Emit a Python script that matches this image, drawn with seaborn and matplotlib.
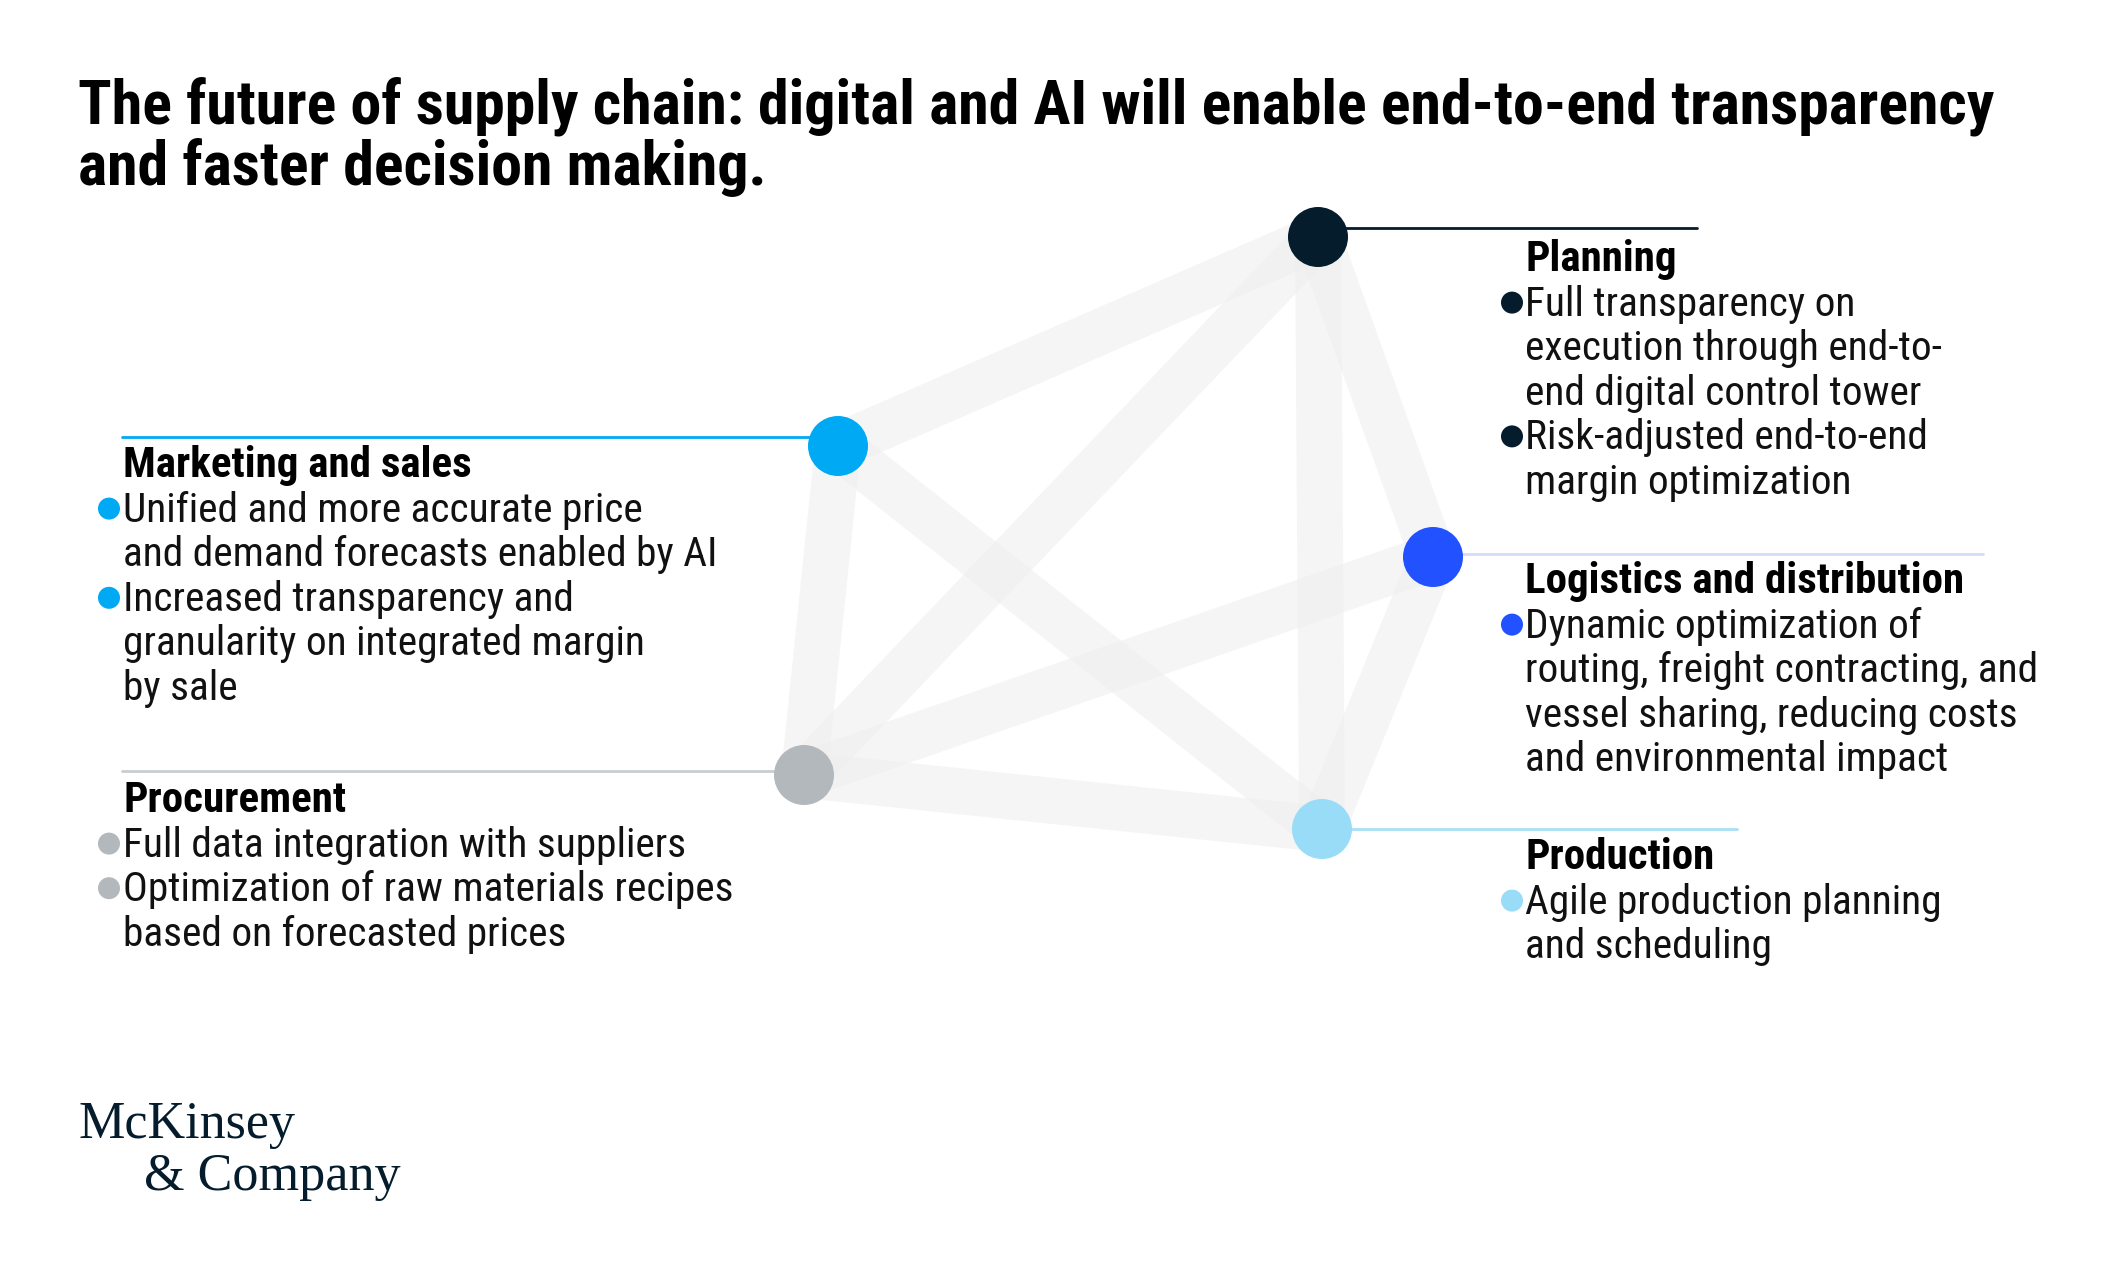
import matplotlib
matplotlib.use("Agg")
import matplotlib.pyplot as plt
from matplotlib import font_manager
import seaborn as sns
import pandas as pd

# ---------------- data ----------------
title_lines = ["The future of supply chain: digital and AI will enable end-to-end transparency",
               "and faster decision making."]
functions = ["Planning", "Marketing and sales", "Logistics and distribution", "Procurement", "Production"]
node_colors = ["#051c2c", "#00a9f4", "#2251ff", "#b3b8bd", "#99dcf8"]
line_colors = ["#051c2c", "#00a9f4", "#d3dcfa", "#c9cdd1", "#a8e0f8"]
edges = [("Planning", "Marketing and sales"), ("Planning", "Procurement"), ("Planning", "Production"),
         ("Planning", "Logistics and distribution"), ("Marketing and sales", "Procurement"),
         ("Marketing and sales", "Production"), ("Procurement", "Logistics and distribution"),
         ("Procurement", "Production"), ("Logistics and distribution", "Production")]
planning_text = [["Full transparency on", "execution through end-to-", "end digital control tower"],
                 ["Risk-adjusted end-to-end", "margin optimization"]]
marketing_text = [["Unified and more accurate price", "and demand forecasts enabled by AI"],
                  ["Increased transparency and", "granularity on integrated margin", "by sale"]]
logistics_text = [["Dynamic optimization of", "routing, freight contracting, and",
                   "vessel sharing, reducing costs", "and environmental impact"]]
procurement_text = [["Full data integration with suppliers"],
                    ["Optimization of raw materials recipes", "based on forecasted prices"]]
production_text = [["Agile production planning", "and scheduling"]]
logo_lines = ["McKinsey", "& Company"]

# ---------------- layout (pixel coordinates) ----------------
W, H, DPI = 2120, 1284, 200
node_x = [1318, 838, 1433, 804, 1322]
node_y = [237, 446, 557, 775, 829]
# connector lines: (x0, x1, y)
connectors = [(1318, 1697, 228), (122, 838, 437), (1433, 1983, 554), (122, 804, 771), (1322, 1737, 829)]
# text blocks: x of text, heading baseline, bullet x
blocks = {
    "Planning": (1525, 271, 1512, planning_text),
    "Marketing and sales": (123, 477, 109, marketing_text),
    "Logistics and distribution": (1525, 593, 1512, logistics_text),
    "Procurement": (123, 812, 109, procurement_text),
    "Production": (1525, 869, 1512, production_text),
}
LINE_STEP = 44.6

sns.set_theme(style="white")
names = {f.name for f in font_manager.fontManager.ttflist}
sans = "Roboto"
for cand in ["Liberation Sans Narrow", "Roboto Condensed", "Roboto", "Liberation Sans"]:
    if cand in names:
        sans = cand
        break
plt.rcParams["font.family"] = [sans, "DejaVu Sans"]

fig = plt.figure(figsize=(W / DPI, H / DPI), dpi=DPI)
fig.patch.set_facecolor("white")
ax = fig.add_axes([0, 0, 1, 1])
renderer = fig.canvas.get_renderer()


def fit_size(text, target_px, weight="normal", family=None):
    t = fig.text(0, 0, text, fontsize=10, fontweight=weight,
                 family=family if family else [sans, "DejaVu Sans"])
    w = t.get_window_extent(renderer).width
    t.remove()
    return 10 * target_px / w


title_fs = fit_size(title_lines[0], 1915, "bold")
body_fs = fit_size("and demand forecasts enabled by AI", 594)
head_fs = fit_size("Logistics and distribution", 439, "bold")
logo_fam = ["Liberation Serif", "DejaVu Serif"]
logo_fs = fit_size("& Company", 256, family=logo_fam)

# edges (faint bands)
pos = {n: (x, y) for n, x, y in zip(functions, node_x, node_y)}
band_lw = 46 / DPI * 72
for a, b in edges:
    (x0, y0), (x1, y1) = pos[a], pos[b]
    ax.plot([x0, x1], [y0, y1], color="#eeeeee", alpha=0.55, lw=band_lw,
            solid_capstyle="butt", zorder=1)

# connector lines
for (x0, x1, y), c in zip(connectors, line_colors):
    ax.plot([x0, x1], [y, y], color=c, lw=1.0, zorder=2)

# nodes
df = pd.DataFrame({"x": node_x, "y": node_y, "function": functions})
sns.scatterplot(data=df, x="x", y="y", hue="function", palette=dict(zip(functions, node_colors)),
                s=(60 / DPI * 72) ** 2, edgecolor="none", legend=False, ax=ax, zorder=3)

# text blocks
for fn, col in zip(functions, node_colors):
    tx, base, bx, items = blocks[fn]
    ax.text(tx, base, fn, fontsize=head_fs, fontweight="bold", color="#000000", va="baseline", ha="left")
    y = base
    for item in items:
        for k, line in enumerate(item):
            y += LINE_STEP
            ax.text(tx, y, line, fontsize=body_fs, color="#111111", va="baseline", ha="left")
            if k == 0:
                ax.scatter([bx], [y - 13], s=(22 / DPI * 72) ** 2, color=col, edgecolor="none", zorder=3)

# title
ax.text(78, 124, title_lines[0], fontsize=title_fs, fontweight="bold", color="#000000", va="baseline")
ax.text(78, 185, title_lines[1], fontsize=title_fs, fontweight="bold", color="#000000", va="baseline")

# logo
ax.text(78, 1138, logo_lines[0], fontsize=logo_fs, family=logo_fam, color="#051c2c", va="baseline")
ax.text(144, 1190, logo_lines[1], fontsize=logo_fs, family=logo_fam, color="#051c2c", va="baseline")

ax.set_xlim(0, W)
ax.set_ylim(H, 0)
ax.axis("off")
fig.savefig("out.png", dpi=DPI, facecolor="white")
